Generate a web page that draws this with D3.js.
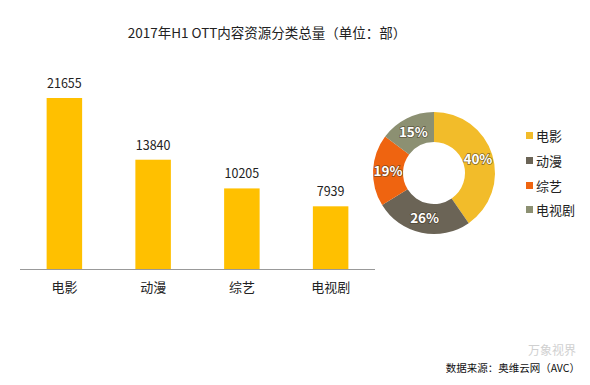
<!doctype html>
<html lang="zh">
<head>
  <meta charset="UTF-8">
  <title>2017年H1 OTT内容资源分类总量</title>
  <style>
    html, body { margin: 0; padding: 0; background: #fff; }
    #app { width: 590px; height: 385px; }
    text { font-family: "Noto Sans CJK SC", "Microsoft YaHei", sans-serif; }
  </style>
</head>
<body>
<div id="app"></div>
<script src="https://cdn.jsdelivr.net/npm/d3@7/dist/d3.min.js"></script>
<script>
  // data
  var categories = ['电影', '动漫', '综艺', '电视剧'];
  var values = [21655, 13840, 10205, 7939];
  var shareLabels = ['40%', '26%', '19%', '15%'];
  var pieColors = ['#f2bc2a', '#6b6456', '#ef6410', '#8c9072'];

  var width = 590;
  var height = 385;

  var svg = d3.select('#app')
              .append('svg')
              .attr('width', width)
              .attr('height', height);

  svg.append('text')
    .attr('x', 267)
    .attr('y', 38)
    .attr('text-anchor', 'middle')
    .attr('font-size', 13.5)
    .attr('fill', '#222')
    .text('2017年H1 OTT内容资源分类总量（单位：部）');

  // bars
  var baseY = 269;
  var x = d3.scaleBand()
    .domain(categories)
    .range([20, 375])
    .paddingInner(0.6)
    .paddingOuter(0.3);

  var y = d3.scaleLinear()
    .domain([0, 21655])
    .range([baseY, 98]);

  svg.selectAll('rect.bar')
    .data(values)
    .enter()
    .append('rect')
    .attr('class', 'bar')
    .attr('x', (d, i) => x(categories[i]))
    .attr('y', d => y(d))
    .attr('width', x.bandwidth())
    .attr('height', d => baseY - y(d))
    .attr('fill', '#ffc000');

  svg.selectAll('text.val')
    .data(values)
    .enter()
    .append('text')
    .attr('class', 'val')
    .attr('x', (d, i) => x(categories[i]) + x.bandwidth() / 2)
    .attr('y', d => y(d) - 10)
    .attr('text-anchor', 'middle')
    .attr('font-size', 12.5)
    .attr('fill', '#222')
    .text(d => d);

  var axis = svg.append('g')
    .attr('transform', 'translate(0,' + baseY + ')')
    .call(d3.axisBottom(x).tickSize(0).tickPadding(14));
  axis.select('.domain').attr('stroke', '#999').attr('d', 'M20,0.5H375');
  axis.selectAll('text')
    .attr('font-size', 13)
    .attr('fill', '#222')
    .attr('font-family', '"Noto Sans CJK SC", sans-serif');

  // donut
  var pie = d3.pie().sort(null)(values);
  var arc = d3.arc().innerRadius(31).outerRadius(61);
  var labelArc = d3.arc().innerRadius(46).outerRadius(46);

  var donut = svg.append('g').attr('transform', 'translate(434,173)');

  donut.selectAll('path')
    .data(pie)
    .enter()
    .append('path')
    .attr('d', arc)
    .attr('fill', (d, i) => pieColors[i]);

  donut.selectAll('text')
    .data(pie)
    .enter()
    .append('text')
    .attr('transform', d => 'translate(' + labelArc.centroid(d) + ')')
    .attr('text-anchor', 'middle')
    .attr('dy', '0.36em')
    .attr('font-size', 13.5)
    .attr('font-weight', 'bold')
    .attr('font-family', '"DejaVu Sans Condensed", "DejaVu Sans", sans-serif')
    .attr('fill', '#fff')
    .attr('stroke', 'rgba(60,50,30,0.6)')
    .attr('stroke-width', 1.5)
    .attr('paint-order', 'stroke')
    .text((d, i) => shareLabels[i]);

  // legend
  var legend = svg.selectAll('g.legend')
    .data(categories)
    .enter()
    .append('g')
    .attr('class', 'legend')
    .attr('transform', (d, i) => 'translate(526,' + [136, 161, 186, 210][i] + ')');

  legend.append('rect')
    .attr('x', 0)
    .attr('y', -4)
    .attr('width', 7)
    .attr('height', 7)
    .attr('fill', (d, i) => pieColors[i]);

  legend.append('text')
    .attr('x', 10)
    .attr('dy', '0.35em')
    .attr('font-size', 13)
    .attr('fill', '#222')
    .text(d => d);

  // watermark + source
  svg.append('text')
    .attr('x', 576)
    .attr('y', 355)
    .attr('text-anchor', 'end')
    .attr('font-size', 12)
    .attr('fill', '#d0d0d0')
    .text('万象视界');

  svg.append('text')
    .attr('x', 580)
    .attr('y', 372)
    .attr('text-anchor', 'end')
    .attr('font-size', 10.5)
    .attr('fill', '#111')
    .text('数据来源：奥维云网（AVC）');
</script>
</body>
</html>
